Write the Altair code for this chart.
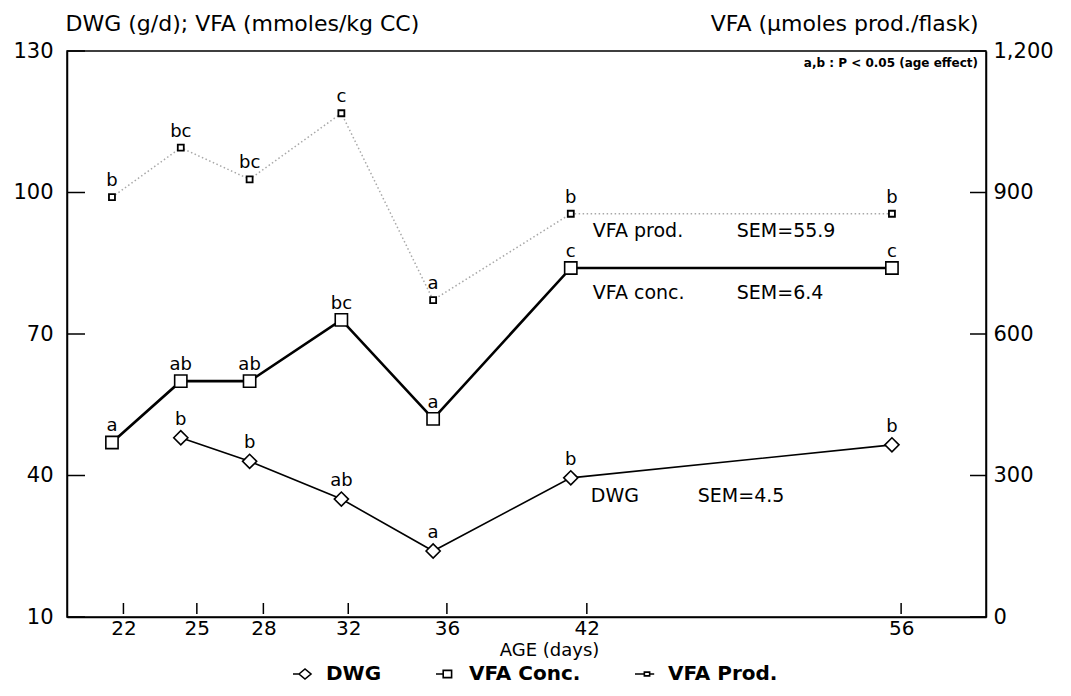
import altair as alt
import pandas as pd

# ---------------- data ----------------
# positions of the sampling points on the (linear) day scale of the drawing
ages = [21, 24, 27, 31, 35, 41, 55]
# tick marks of the age axis: positions on the same scale, and their labels
tick_pos = [21.5, 24.7, 27.6, 31.3, 35.6, 41.7, 55.4]
tick_labels = ["22", "25", "28", "32", "36", "42", "56"]

dwg = [None, 48, 43, 35, 24, 39.5, 46.5]
dwg_sig = ["", "b", "b", "ab", "a", "b", "b"]
vfa_conc = [47, 60, 60, 73, 52, 84, 84]
conc_sig = ["a", "ab", "ab", "bc", "a", "c", "c"]
vfa_prod = [890, 995, 928, 1068, 672, 855, 855]
prod_sig = ["b", "bc", "bc", "c", "a", "b", "b"]

left_ticks = [10, 40, 70, 100, 130]
right_ticks = [0, 300, 600, 900, 1200]

series = ["DWG", "VFA Conc.", "VFA Prod."]
sem_names = ["DWG", "VFA conc.", "VFA prod."]
sem_texts = ["SEM=4.5", "SEM=6.4", "SEM=55.9"]
note = "a,b : P < 0.05 (age effect)"

# ---------------- tables ----------------
dwg_df = pd.DataFrame({"age": ages, "val": dwg, "sig": dwg_sig}).dropna()
conc_df = pd.DataFrame({"age": ages, "val": vfa_conc, "sig": conc_sig})
prod_df = pd.DataFrame({"age": ages, "pv": vfa_prod, "sig": prod_sig})
lt_df = pd.DataFrame({"val": left_ticks})
rt_df = pd.DataFrame({"pv": right_ticks})
xt_df = pd.DataFrame({"age": tick_pos})
i42 = 5
dwg_note = pd.DataFrame({"age": [ages[i42]], "val": [dwg[i42]], "name": [sem_names[0]], "sem": [sem_texts[0]]})
conc_note = pd.DataFrame({"age": [ages[i42]], "val": [vfa_conc[i42]], "name": [sem_names[1]], "sem": [sem_texts[1]]})
prod_note = pd.DataFrame({"age": [ages[i42]], "pv": [vfa_prod[i42]], "name": [sem_names[2]], "sem": [sem_texts[2]]})
leg_df = pd.DataFrame({"series": series})
note_df = pd.DataFrame({"t": [note]})

# ---------------- styling ----------------
FONT = "DejaVu Sans"
W, H = 919, 566

xscale = alt.Scale(domain=[19.04, 59.1], nice=False, zero=False)
ylscale = alt.Scale(domain=[10, 130], nice=False, zero=False)
yrscale = alt.Scale(domain=[0, 1200], nice=False, zero=False)

label_expr = ("[" + ",".join("'%s'" % l for l in tick_labels) + "][indexof(["
              + ",".join(str(p) for p in tick_pos) + "], datum.value)]")

x_axis = alt.Axis(values=tick_pos, labelExpr=label_expr, title="AGE (days)",
                  ticks=False, grid=False, domainColor="black", domainWidth=1.5,
                  labelFont=FONT, labelFontSize=20, labelColor="black", labelPadding=1,
                  labelFlush=False, labelOverlap=False,
                  titleFont=FONT, titleFontSize=18, titleFontWeight="normal",
                  titleColor="black", titleX=482, titleY=33, titleBaseline="middle",
                  titleAlign="center")
yl_axis = alt.Axis(values=left_ticks, ticks=False, grid=False, domainColor="black",
                   domainWidth=1.5, labelFont=FONT, labelFontSize=21, labelColor="black",
                   labelPadding=14, title="DWG (g/d); VFA (mmoles/kg CC)", titleAngle=0,
                   titleAlign="left", titleBaseline="middle", titleX=-2, titleY=-28,
                   titleFont=FONT, titleFontSize=22, titleFontWeight="normal",
                   titleColor="black")
yr_axis = alt.Axis(values=right_ticks, orient="right", format=",d", ticks=False, grid=False,
                   domainColor="black", domainWidth=1.5, labelFont=FONT, labelFontSize=21,
                   labelColor="black", labelPadding=7, title="VFA (\u00b5moles prod./flask)",
                   titleAngle=0, titleAlign="right", titleBaseline="middle", titleX=-8,
                   titleY=-28, titleFont=FONT, titleFontSize=22, titleFontWeight="normal",
                   titleColor="black")

X = alt.X("age:Q", scale=xscale, axis=x_axis)
YL = alt.Y("val:Q", scale=ylscale, axis=yl_axis)
YR = alt.Y("pv:Q", scale=yrscale, axis=yr_axis)

# legend symbols (line stub + marker), drawn in a [-1, 1] box
leg_paths = [
    "M-1,0L-0.5,0M-0.5,0L0,-0.42L0.5,0L0,0.42Z",
    "M-1,0L-0.4,0M-0.4,-0.3L0.3,-0.3L0.3,0.3L-0.4,0.3Z",
    "M-1,0L-0.22,0M0.22,0L0.6,0M-0.22,-0.16L0.22,-0.16L0.22,0.16L-0.22,0.16Z",
]

# ---------------- left-scale layers ----------------
conc_line = alt.Chart(conc_df).mark_line(color="black", strokeWidth=2.6).encode(x=X, y=YL)
conc_pts = alt.Chart(conc_df).mark_point(shape="square", size=150, filled=True, fill="white",
                                         stroke="black", strokeWidth=1.6, opacity=1).encode(x=X, y=YL)
conc_txt = alt.Chart(conc_df).mark_text(font=FONT, fontSize=18, dy=-16, color="black").encode(
    x=X, y=YL, text="sig:N")
dwg_line = alt.Chart(dwg_df).mark_line(color="black", strokeWidth=1.6).encode(x=X, y=YL)
dwg_pts = alt.Chart(dwg_df).mark_point(shape="diamond", size=200, filled=True, fill="white",
                                       stroke="black", strokeWidth=1.6, opacity=1).encode(x=X, y=YL)
dwg_txt = alt.Chart(dwg_df).mark_text(font=FONT, fontSize=18, dy=-18, color="black").encode(
    x=X, y=YL, text="sig:N")
lt_rules = alt.Chart(lt_df).mark_rule(color="black", strokeWidth=1.5).encode(
    y=YL, x=alt.value(0), x2=alt.value(18))
xt_rules = alt.Chart(xt_df).mark_rule(color="black", strokeWidth=1.5).encode(
    x=X, y=alt.value(H - 3), y2=alt.value(H - 14))
conc_n1 = alt.Chart(conc_note).mark_text(font=FONT, fontSize=19, align="left", dx=22, dy=25,
                                         color="black").encode(x=X, y=YL, text="name:N")
conc_n2 = alt.Chart(conc_note).mark_text(font=FONT, fontSize=19, align="left", dx=166, dy=25,
                                         color="black").encode(x=X, y=YL, text="sem:N")
dwg_n1 = alt.Chart(dwg_note).mark_text(font=FONT, fontSize=19, align="left", dx=20, dy=18,
                                       color="black").encode(x=X, y=YL, text="name:N")
dwg_n2 = alt.Chart(dwg_note).mark_text(font=FONT, fontSize=19, align="left", dx=127, dy=18,
                                       color="black").encode(x=X, y=YL, text="sem:N")
note_txt = alt.Chart(note_df).mark_text(font=FONT, fontSize=12, fontWeight="bold", align="right",
                                        color="black").encode(
    x=alt.value(W - 8), y=alt.value(12), text="t:N")
legend_layer = alt.Chart(leg_df).mark_point(clip=True, filled=False, color="black",
                                            strokeWidth=1.6, size=576, opacity=1).encode(
    x=alt.value(-60), y=alt.value(-60),
    shape=alt.Shape("series:N", scale=alt.Scale(domain=series, range=leg_paths),
                    legend=alt.Legend(orient="none", legendX=225, legendY=610,
                                      direction="horizontal", columns=3, title=None,
                                      symbolSize=576, symbolStrokeColor="black",
                                      symbolStrokeWidth=1.6, symbolOpacity=1,
                                      labelFont=FONT, labelFontSize=20, labelFontWeight="bold",
                                      labelColor="black", labelOffset=8, columnPadding=50)))

left = alt.layer(lt_rules, xt_rules, conc_line, dwg_line, conc_pts, dwg_pts, conc_txt, dwg_txt,
                 conc_n1, conc_n2, dwg_n1, dwg_n2, note_txt, legend_layer)

# ---------------- right-scale layers ----------------
prod_line = alt.Chart(prod_df).mark_line(color="#a8a8a8", strokeWidth=1.5,
                                         strokeDash=[1.5, 2.5]).encode(x=X, y=YR)
prod_pts = alt.Chart(prod_df).mark_point(shape="square", size=36, filled=True, fill="white",
                                         stroke="black", strokeWidth=1.8, opacity=1).encode(x=X, y=YR)
prod_txt = alt.Chart(prod_df).mark_text(font=FONT, fontSize=18, dy=-16, color="black").encode(
    x=X, y=YR, text="sig:N")
rt_rules = alt.Chart(rt_df).mark_rule(color="black", strokeWidth=1.5).encode(
    y=YR, x=alt.value(W - 16), x2=alt.value(W))
prod_n1 = alt.Chart(prod_note).mark_text(font=FONT, fontSize=19, align="left", dx=22, dy=17,
                                         color="black").encode(x=X, y=YR, text="name:N")
prod_n2 = alt.Chart(prod_note).mark_text(font=FONT, fontSize=19, align="left", dx=166, dy=17,
                                         color="black").encode(x=X, y=YR, text="sem:N")

right = alt.layer(rt_rules, prod_line, prod_pts, prod_txt, prod_n1, prod_n2)

chart = (
    alt.layer(left, right)
    .resolve_scale(y="independent")
    .properties(width=W, height=H, background="white",
                autosize=alt.AutoSizeParams(type="none"),
                padding={"left": 59, "top": 43, "right": 77, "bottom": 71})
    .configure_view(stroke="black", strokeWidth=1.5)
)

chart.save("out.html", embed_options={"renderer": "svg", "actions": False})
